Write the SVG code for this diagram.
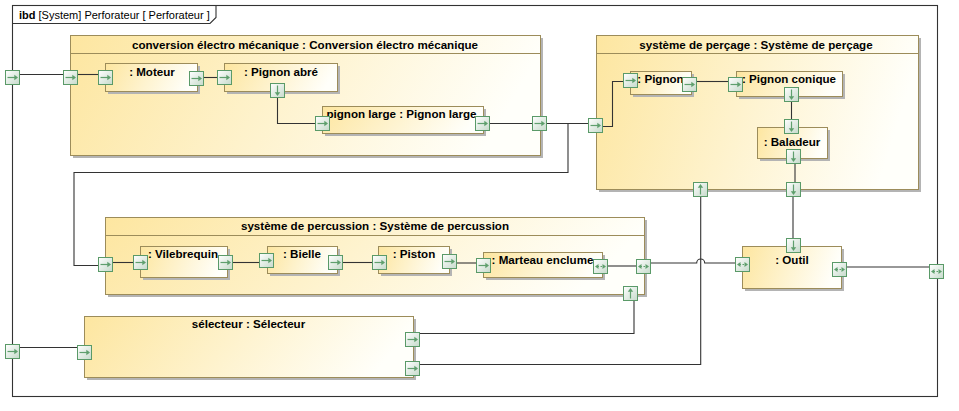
<svg xmlns="http://www.w3.org/2000/svg" xmlns:xlink="http://www.w3.org/1999/xlink" width="959" height="411" viewBox="0 0 959 411">
<style>
text{font-family:"Liberation Sans",Arial,sans-serif;font-size:11px;fill:#000}
.t{font-weight:bold;text-anchor:middle;font-size:11.6px}
.blk{fill:url(#bg);stroke:#9c8c5a;stroke-width:1}
.sh{fill:#b4b4b4}
.hd{stroke:#9c8c5a;stroke-width:1}
.cn{fill:none;stroke:#333;stroke-width:1.1}
.pb{fill:url(#pgr);stroke:#5a9a68;stroke-width:1}
.pa{fill:none;stroke:#5f9f6d;stroke-width:1.2}
.ph{fill:#5f9f6d}
</style>
<defs>
<linearGradient id="bg" x1="0" y1="0" x2="1" y2="0.15">
<stop offset="0" stop-color="#fde6a0"/>
<stop offset="1" stop-color="#fffffa"/>
</linearGradient>
<linearGradient id="pgr" x1="0" y1="0" x2="1" y2="1">
<stop offset="0" stop-color="#ffffff"/>
<stop offset="1" stop-color="#c6dacb"/>
</linearGradient>
<g id="pR"><rect class="pb" x="0.5" y="0.5" width="14" height="14"/><path class="pa" d="M2.5,7.5H10"/><path class="ph" d="M13,7.5L9.3,4.8V10.2Z"/></g>
<g id="pD"><rect class="pb" x="0.5" y="0.5" width="14" height="14"/><path class="pa" d="M7.5,2.5V10"/><path class="ph" d="M7.5,13L4.8,9.3H10.2Z"/></g>
<g id="pU"><rect class="pb" x="0.5" y="0.5" width="14" height="14"/><path class="pa" d="M7.5,12.5V5"/><path class="ph" d="M7.5,2L4.8,5.7H10.2Z"/></g>
<g id="pB"><rect class="pb" x="0.5" y="0.5" width="14" height="14"/><path class="pa" d="M4.5,7.5H10.5" stroke-dasharray="1.5,1.5"/><path class="ph" d="M2,7.5L5.5,5V10Z M13,7.5L9.5,5V10Z"/></g>
</defs>
<rect x="0" y="0" width="959" height="411" fill="#fff"/>

<g id="frame">
<rect x="12.5" y="5.5" width="925" height="391" fill="none" stroke="#333" stroke-width="1.1"/>
<path d="M12.5,23.5H210L216,17.5V5.5" fill="none" stroke="#333" stroke-width="1.1"/>
<text x="19" y="18.5"><tspan font-weight="bold">ibd</tspan> [System] Perforateur [ Perforateur ]</text>
<use href="#pR" x="5" y="70"/>
<use href="#pR" x="5" y="344"/>
<use href="#pB" x="929" y="264"/>
</g>

<g id="conversion">
<rect class="sh" x="73" y="38" width="470" height="120"/>
<rect class="blk" x="70.5" y="35.5" width="470" height="120"/>
<line class="hd" x1="70.5" y1="53.5" x2="540.5" y2="53.5"/>
<text class="t" x="305" y="48.5">conversion électro mécanique : Conversion électro mécanique</text>
<use href="#pR" x="63" y="70"/>
<use href="#pR" x="532" y="116"/>
</g>
<g id="moteur">
<rect class="sh" x="108" y="66" width="92" height="28"/>
<rect class="blk" x="105.5" y="63.5" width="92" height="28"/>
<text class="t" x="152" y="75.5">: Moteur</text>
<use href="#pR" x="98" y="70"/>
<use href="#pR" x="189" y="71"/>
</g>
<g id="pignon-abre">
<rect class="sh" x="227" y="66" width="113" height="28"/>
<rect class="blk" x="224.5" y="63.5" width="113" height="28"/>
<text class="t" x="281" y="75.5">: Pignon abré</text>
<use href="#pR" x="217" y="70"/>
<use href="#pD" x="270" y="83"/>
</g>
<g id="pignon-large">
<rect class="sh" x="325" y="109" width="161" height="27"/>
<rect class="blk" x="322.5" y="106.5" width="161" height="27"/>
<text class="t" x="401.5" y="117.5">pignon large : Pignon large</text>
<use href="#pR" x="315" y="116"/>
<use href="#pR" x="475" y="116"/>
</g>

<g id="percage">
<rect class="sh" x="599" y="38" width="322" height="154"/>
<rect class="blk" x="596.5" y="35.5" width="322" height="154"/>
<line class="hd" x1="596.5" y1="53.5" x2="918.5" y2="53.5"/>
<text class="t" x="756" y="48.5">système de perçage : Système de perçage</text>
<use href="#pR" x="588" y="118"/>
<use href="#pU" x="693" y="182"/>
<use href="#pD" x="786" y="182"/>
</g>
<g id="pignon">
<rect class="sh" x="633" y="74" width="61" height="23"/>
<rect class="blk" x="630.5" y="71.5" width="61" height="23"/>
<text class="t" x="660.5" y="83">: Pignon</text>
<use href="#pR" x="623" y="73"/>
<use href="#pR" x="682" y="77"/>
</g>
<g id="pignon-conique">
<rect class="sh" x="739" y="74" width="106" height="25"/>
<rect class="blk" x="736.5" y="71.5" width="106" height="25"/>
<text class="t" x="789" y="83">: Pignon conique</text>
<use href="#pR" x="728" y="77"/>
<use href="#pD" x="784" y="87"/>
</g>
<g id="baladeur">
<rect class="sh" x="760" y="130" width="70" height="31"/>
<rect class="blk" x="757.5" y="127.5" width="70" height="31"/>
<text class="t" x="792" y="146">: Baladeur</text>
<use href="#pD" x="784" y="119"/>
<use href="#pD" x="786" y="149"/>
</g>

<g id="percussion">
<rect class="sh" x="108" y="220" width="539" height="77"/>
<rect class="blk" x="105.5" y="217.5" width="539" height="77"/>
<line class="hd" x1="105.5" y1="235.5" x2="644.5" y2="235.5"/>
<text class="t" x="375" y="229.5">système de percussion : Système de percussion</text>
<use href="#pR" x="98" y="257"/>
<use href="#pB" x="636" y="259"/>
<use href="#pU" x="623" y="286"/>
</g>
<g id="vilebrequin">
<rect class="sh" x="143" y="249" width="87" height="31"/>
<rect class="blk" x="140.5" y="246.5" width="87" height="31"/>
<text class="t" x="183" y="257.5">: Vilebrequin</text>
<use href="#pR" x="133" y="255"/>
<use href="#pR" x="218" y="255"/>
</g>
<g id="bielle">
<rect class="sh" x="270" y="249" width="70" height="27"/>
<rect class="blk" x="267.5" y="246.5" width="70" height="27"/>
<text class="t" x="302" y="257.5">: Bielle</text>
<use href="#pR" x="259" y="253"/>
<use href="#pR" x="328" y="255"/>
</g>
<g id="piston">
<rect class="sh" x="381" y="249" width="71" height="27"/>
<rect class="blk" x="378.5" y="246.5" width="71" height="27"/>
<text class="t" x="414" y="257.5">: Piston</text>
<use href="#pR" x="372" y="255"/>
<use href="#pR" x="442" y="254"/>
</g>
<g id="marteau-enclume">
<rect class="sh" x="486" y="255" width="119" height="25"/>
<rect class="blk" x="483.5" y="252.5" width="119" height="25"/>
<text class="t" x="542.5" y="264">: Marteau enclume</text>
<use href="#pR" x="476" y="258"/>
<use href="#pB" x="593" y="259"/>
</g>

<g id="selecteur">
<rect class="sh" x="87" y="319" width="329" height="61"/>
<rect class="blk" x="84.5" y="316.5" width="329" height="61"/>
<text class="t" x="248.5" y="327.5">sélecteur : Sélecteur</text>
<use href="#pR" x="77" y="345"/>
<use href="#pR" x="405" y="332"/>
<use href="#pR" x="405" y="361"/>
</g>

<g id="outil">
<rect class="sh" x="745" y="249" width="99" height="42"/>
<rect class="blk" x="742.5" y="246.5" width="99" height="42"/>
<text class="t" x="792" y="264">: Outil</text>
<use href="#pD" x="786" y="238"/>
<use href="#pB" x="735" y="257"/>
<use href="#pB" x="832" y="262"/>
</g>

<g id="connectors">
<path class="cn" d="M20,74.5H63"/>
<path class="cn" d="M78,74.5H98"/>
<path class="cn" d="M204,77.5H217"/>
<path class="cn" d="M277.5,98V123.5H315"/>
<path class="cn" d="M490,123.5H532"/>
<path class="cn" d="M547,123.5H588"/>
<path class="cn" d="M568,123.5V172.5H74V265.5H98"/>
<path class="cn" d="M603,126.5H612.5V81.5H623"/>
<path class="cn" d="M697,81.5H728"/>
<path class="cn" d="M791.5,102V119"/>
<path class="cn" d="M795,164V182"/>
<path class="cn" d="M793,197V238"/>
<path class="cn" d="M113,262.5H133"/>
<path class="cn" d="M233,262.5H259"/>
<path class="cn" d="M343,262.5H372"/>
<path class="cn" d="M457,263H476"/>
<path class="cn" d="M608,266H636"/>
<path class="cn" d="M651,263H696.7A4,4 0 0 1 704.7,263H735"/>
<path class="cn" d="M847,267H929"/>
<path class="cn" d="M20,347.5H77"/>
<path class="cn" d="M420,333.5H634V301"/>
<path class="cn" d="M420,364.5H700.7V197"/>
</g>
</svg>
